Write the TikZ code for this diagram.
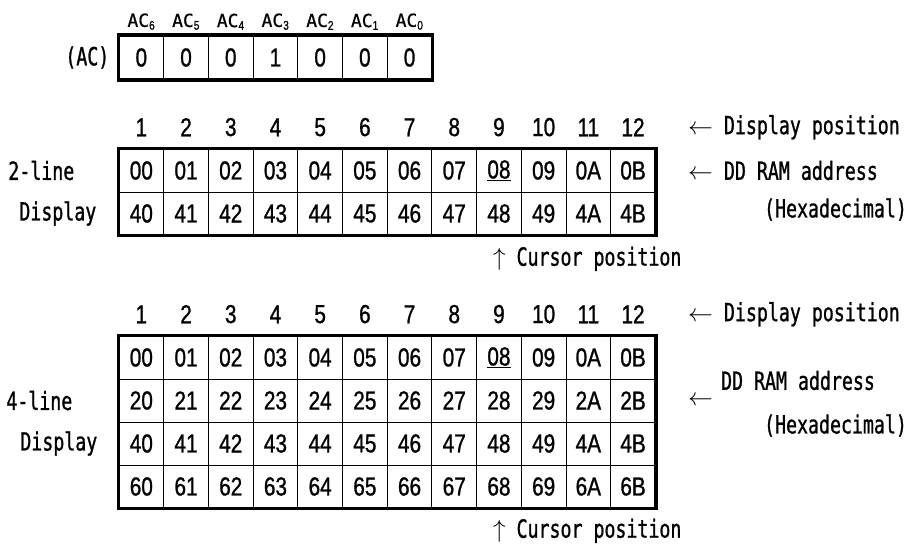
\documentclass[tikz,border=0pt]{standalone}
\usepackage{fontspec}
\setmonofont[FakeStretch=0.73, FakeBold=1]{DejaVu Sans Mono}
\newfontfamily\digitfont[FakeStretch=0.8, FakeBold=1]{Liberation Sans}
\newfontfamily\bitfont[FakeBold=0.6]{DejaVu Sans Mono}
\usepackage{tikz}
\usetikzlibrary{positioning}

\begin{document}
\begin{tikzpicture}[
	x = 1pt, y = -1pt, % one unit per pixel, y grows downwards
	addr/.style={draw, line width=1pt, minimum width=44.7pt, minimum height=43pt, inner sep=0pt, font=\digitfont\fontsize{26}{30}\selectfont},
	num/.style={inner sep=0pt, font=\digitfont\fontsize{26}{30}\selectfont},
	lbl/.style={inner sep=0pt, font=\ttfamily\fontsize{25}{30}\selectfont},
	bit/.style={inner sep=0pt, font=\bitfont\fontsize{18}{22}\selectfont},
	heavy/.style={draw, line width=3.5pt},
	]
	\useasboundingbox (0,0) rectangle (908,544);

	% Address counter
	\foreach \v [count=\i] in {0,0,0,1,0,0,0} {
		\pgfmathtruncatemacro{\b}{7-\i}
		\node[addr, minimum height=44pt] (ac\i) at ({119+(\i-0.5)*44.7}, 57.5) {\v};
		\node[bit] (acl\i) [above = 5pt of ac\i] {AC\textsubscript{\digitfont\b}};
	}
	\draw[heavy] (ac1.north west) rectangle (ac7.south east);
	\node[lbl] (acname) [left = 9pt of ac1] {(AC)};

	% 2-line display
	\foreach \entries [count=\rw] in {{00,01,02,03,04,05,06,07,\underline{08},09,0A,0B},{40,41,42,43,44,45,46,47,48,49,4A,4B}} {
		\foreach \txt [count=\cl] in \entries
			\node[addr] (p\rw-\cl) at ({119+(\cl-0.5)*44.7}, {170.5+(\rw-1)*43}) {\txt};
	}
	\draw[heavy] (p1-1.north west) rectangle (p2-12.south east);
	\foreach \cl in {1,...,12}
		\node[num] (n\cl) [above = 12pt of p1-\cl] {\cl};

	\node[lbl] (two)   [left = 44pt of p1-1] {2-line};
	\node[lbl] (disp2) [left = 22pt of p2-1] {Display};
	\node[lbl] (dp2) [right = 32pt of p1-12.east |- n12.east] {$\leftarrow$ Display position};
	\node[lbl] (dd2) [right = 32pt of p1-12] {$\leftarrow$ DD RAM address};
	\node[lbl] (hx2) [right = 108pt of p2-12, yshift=4pt] {(Hexadecimal)};
	\node[lbl, anchor=north west] (cur2) at ([xshift=-6pt, yshift=-11pt]p2-9.south) {$\uparrow$ Cursor position};

	% 4-line display
	\foreach \entries [count=\rw] in {{00,01,02,03,04,05,06,07,\underline{08},09,0A,0B},{20,21,22,23,24,25,26,27,28,29,2A,2B},{40,41,42,43,44,45,46,47,48,49,4A,4B},{60,61,62,63,64,65,66,67,68,69,6A,6B}} {
		\foreach \txt [count=\cl] in \entries
			\node[addr] (q\rw-\cl) at ({119+(\cl-0.5)*44.7}, {357.5+(\rw-1)*43}) {\txt};
	}
	\draw[heavy] (q1-1.north west) rectangle (q4-12.south east);
	\foreach \cl in {1,...,12}
		\node[num] (m\cl) [above = 12pt of q1-\cl] {\cl};

	\node[lbl] (four)  [left = 46pt of q2-1] {4-line};
	\node[lbl] (disp4) [left = 21pt of q3-1] {Display};
	\node[lbl] (dp4) [right = 32pt of q1-12.east |- m12.east] {$\leftarrow$ Display position};
	\node[lbl] (ar4) [right = 32pt of q2-12] {$\leftarrow$};
	\node[lbl] (dd4) [right = 65pt of q2-12, yshift=20pt] {DD RAM address};
	\node[lbl] (hx4) [right = 108pt of q2-12, yshift=-25pt] {(Hexadecimal)};
	\node[lbl, anchor=north west] (cur4) at ([xshift=-6pt, yshift=-10pt]q4-9.south) {$\uparrow$ Cursor position};

\end{tikzpicture}
\end{document}
